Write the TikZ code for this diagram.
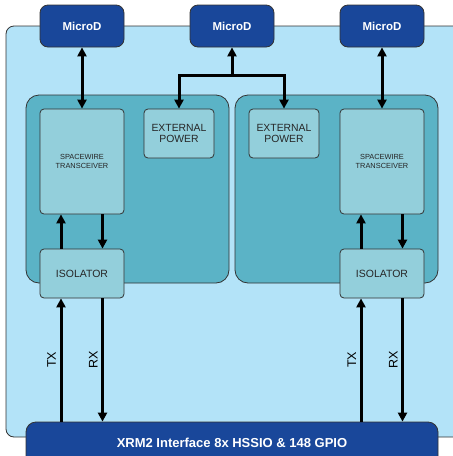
\documentclass[tikz,border=0pt]{standalone}
\usepackage{fontspec}
\setmainfont{Liberation Sans}
\usetikzlibrary{arrows.meta}
\definecolor{boardblue}{HTML}{B3E3F8}
\definecolor{groupteal}{HTML}{5BB3C6}
\definecolor{partteal}{HTML}{93CFDB}
\definecolor{microblue}{HTML}{19479A}
\definecolor{edgegray}{HTML}{333333}

\begin{document}
\begin{tikzpicture}[x=1pt, y=-1pt, >={Triangle[length=9pt,width=9pt]},
    micro/.style={draw=edgegray, fill=microblue, rounded corners=8pt, line width=0.8pt,
        minimum width=84pt, minimum height=42pt, inner sep=0pt,
        text=white, font=\fontsize{11.5}{13}\selectfont\bfseries},
    group/.style={draw=edgegray, fill=groupteal, rounded corners=13pt, line width=0.8pt,
        minimum width=203pt, minimum height=188pt, inner sep=0pt},
    part/.style={draw=edgegray, fill=partteal, rounded corners=4pt, line width=0.8pt,
        minimum width=84pt, inner sep=0pt, align=center, text=black!85},
    sig/.style={midway, rotate=90, anchor=south, inner sep=3.5pt, font=\fontsize{12.5}{14}\selectfont},
    link/.style={line width=3pt}]

    \useasboundingbox (0,0) rectangle (453,456);
    \clip (0,0) rectangle (453,456);

    % Board:
    \draw[rounded corners=8pt, fill=boardblue, draw=edgegray, line width=0.8pt] (6,26) rectangle (480,437);

    % Groups:
    \node[group] (grpL) at (127.5,189) {};
    \node[group] (grpR) at (336.5,189) {};

    % Parts:
    \node[part, minimum height=105pt, font=\fontsize{7.4}{9}\selectfont] (swL) at (82,161.5) {SPACEWIRE\\TRANSCEIVER};
    \node[part, minimum height=105pt, font=\fontsize{7.4}{9}\selectfont] (swR) at (382,161.5) {SPACEWIRE\\TRANSCEIVER};
    \node[part, minimum width=70pt, minimum height=49pt, font=\fontsize{10.4}{11}\selectfont] (pwrL) at (179,133.5) {EXTERNAL\\POWER};
    \node[part, minimum width=70pt, minimum height=49pt, font=\fontsize{10.4}{11}\selectfont] (pwrR) at (284,133.5) {EXTERNAL\\POWER};
    \node[part, minimum height=49pt, font=\fontsize{10.5}{12}\selectfont] (isoL) at (82,273.5) {ISOLATOR};
    \node[part, minimum height=49pt, font=\fontsize{10.5}{12}\selectfont] (isoR) at (382,273.5) {ISOLATOR};

    % Connectors:
    \node[micro] (mdL) at (82,26) {MicroD};
    \node[micro] (mdC) at (232,26) {MicroD};
    \node[micro] (mdR) at (382,26) {MicroD};
    \node[micro, rounded corners=10pt, minimum width=412pt, minimum height=44pt,
        font=\fontsize{13}{15}\selectfont\bfseries] (xrm) at (232,444) {\raisebox{3pt}{XRM2 Interface 8x HSSIO \& 148 GPIO}};

    % Links:
    \draw[<->, link] (mdL) -- (swL);
    \draw[<->, link] (mdR) -- (swR);
    \coordinate (split) at (232,75);
    \draw[<-, link] (mdC) -- (split);
    \draw[->, link, line join=miter] (split) -| (pwrL);
    \draw[->, link, line join=miter] (split) -| (pwrR);

    \draw[->, link] ([xshift=-21pt]isoL.north) -- ([xshift=-21pt]swL.south);
    \draw[->, link] ([xshift=20.5pt]swL.south) -- ([xshift=20.5pt]isoL.north);
    \draw[->, link] ([xshift=-21pt]isoR.north) -- ([xshift=-21pt]swR.south);
    \draw[->, link] ([xshift=20.5pt]swR.south) -- ([xshift=20.5pt]isoR.north);

    \draw[->, link] ([xshift=-21pt]isoL.south |- xrm.north) -- ([xshift=-21pt]isoL.south)
        node[sig] (txL) {TX};
    \draw[->, link] ([xshift=20.5pt]isoL.south) -- ([xshift=20.5pt]isoL.south |- xrm.north)
        node[sig] (rxL) {RX};
    \draw[->, link] ([xshift=-21pt]isoR.south |- xrm.north) -- ([xshift=-21pt]isoR.south)
        node[sig] (txR) {TX};
    \draw[->, link] ([xshift=20.5pt]isoR.south) -- ([xshift=20.5pt]isoR.south |- xrm.north)
        node[sig] (rxR) {RX};
\end{tikzpicture}
\end{document}
